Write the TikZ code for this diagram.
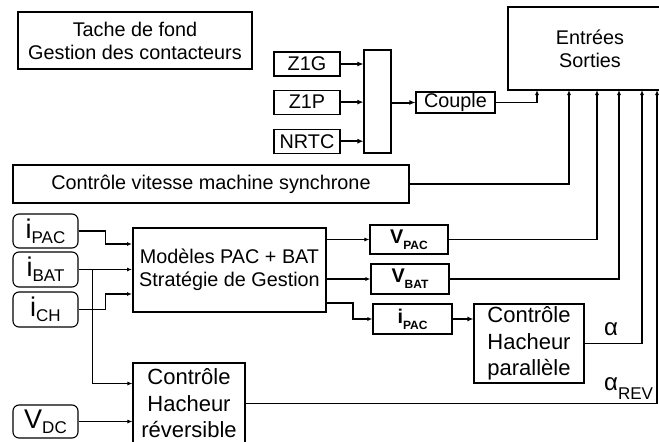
\documentclass[tikz,border=0pt]{standalone}
\usepackage{fontspec}
\setmainfont{Liberation Sans}
\usepackage{tikz}
\usetikzlibrary{arrows.meta, positioning, calc}

\newcommand{\sigsub}[2]{#1\raisebox{-5pt}{\fontsize{17}{17}\selectfont #2}}
\newcommand{\valsub}[2]{\textbf{#1\raisebox{-6pt}{\fontsize{12}{12}\selectfont #2}}}

\begin{document}
\begin{tikzpicture}[
    x=1pt, y=-1pt,
    blk/.style={draw, line width=1.1pt, inner sep=0pt, align=center, font=\fontsize{19.8}{23}\selectfont},
    hach/.style={blk, font=\fontsize{22}{26.5}\selectfont},
    sigbox/.style={blk, rounded corners=6pt, minimum width=65pt, font=\fontsize{27}{27}\selectfont},
    valbox/.style={blk, minimum width=78pt, minimum height=30pt, font=\fontsize{19.8}{20}\selectfont},
    arr/.style={line width=1.1pt, -{Latex[length=5pt,width=4pt]}},
    thkarr/.style={line width=2pt, -{Latex[length=6pt,width=5pt]}}
]
\useasboundingbox (0,0) rectangle (659,442);

% tache de fond
\node (tache) [blk, minimum width=234pt, minimum height=57pt] at (135,40.5) {Tache de fond\\Gestion des contacteurs};

% couple
\node (z1g) [blk, minimum width=66pt, minimum height=24pt] at (307,64) {Z1G};
\node (z1p) [blk, minimum width=66pt, minimum height=24pt, below=13pt of z1g] {Z1P};
\node (nrtc) [blk, minimum width=66pt, minimum height=24pt, below=14pt of z1p] {NRTC};
\node (mux) [blk, minimum width=27pt, minimum height=103pt] at (377.5,101.5) {};
\node (couple) [blk, minimum width=79pt, minimum height=21pt] at (455.5,102.5) {Couple};
\node (io) [blk, minimum width=164pt, minimum height=83pt] at (590,48.5) {Entrées\\Sorties};
\foreach \n/\x in {0/537,1/569,2/597,3/619,4/642,5/657}
    \coordinate (bus\n) at (\x,90);

% vitesse
\node (vit) [blk, minimum width=396pt, minimum height=38pt] at (211,184) {Contrôle vitesse machine synchrone};

% gestion energie
\node (mod) [blk, line width=2pt, minimum width=193pt, minimum height=84pt] at (229.5,270) {Modèles PAC + BAT\\Stratégie de Gestion};
\node (ipac) [sigbox, minimum height=34pt] at (45.5,231) {\sigsub{i}{PAC}};
\node (ibat) [sigbox, minimum height=35pt] at (45.5,269.5) {\sigsub{i}{BAT}};
\node (ich) [sigbox, minimum height=35pt] at (45.5,309.5) {\sigsub{i}{CH}};
\node (vdc) [sigbox, minimum height=33pt] at (45.5,421.5) {\sigsub{V}{DC}};
\node (vpac) [valbox, minimum height=29pt] at (409,239.5) {\valsub{V}{PAC}};
\node (vbat) [valbox] at (410,279) {\valsub{V}{BAT}};
\node (ipo) [valbox, minimum width=79pt] at (412.5,319) {\valsub{i}{PAC}};
\node (hpar) [hach, minimum width=110pt, minimum height=79pt] at (529,343.5) {Contrôle\\Hacheur\\parallèle};
\node (hrev) [hach, minimum width=112pt, minimum height=81pt] at (189,403.5) {Contrôle\\Hacheur\\réversible};
\node (alpha) [anchor=base, inner sep=0pt, font=\fontsize{24}{24}\selectfont] at (611,335) {α};
\node (alpharev) [anchor=base west, inner sep=0pt, font=\fontsize{24}{24}\selectfont] at (604,390) {α\raisebox{-9pt}{\fontsize{17}{17}\selectfont REV}};

% connexions
\foreach \s in {z1g,z1p,nrtc}
    \draw[thkarr] (\s.east) -- (\s.east -| mux.west);
\draw[thkarr] (mux.east |- couple.west) -- (couple.west);
\draw[arr] (couple.east) -| (bus0);
\draw[arr] (vit.east) -| (bus1);
\draw[arr] (vpac.east) -| (bus2);
\draw[arr] (vbat.east) -| (bus3);
\draw[arr] (hpar.east) -| (bus4);
\draw[arr] (hrev.east) -| (bus5);

\draw[arr] (ipac.east) -- ++(27,0) |- ($(mod.west)+(0,-26)$);
\draw[arr] (ibat.east) -- (ibat.east -| mod.west);
\draw[arr] (ich.east) -- ++(27,0) |- ($(mod.west)+(0,24)$);
\draw[arr] ($(ibat.east)+(14,0)$) |- ($(hrev.west)+(0,-20)$);
\draw[arr] (vdc.east) -- (vdc.east -| hrev.west);

\draw[arr] (mod.east |- vpac.west) -- (vpac.west);
\draw[arr] (mod.east |- vbat.west) -- (vbat.west);
\draw[arr] ($(mod.east)+(0,33)$) -- ++(26,0) |- (ipo.west);
\draw[thkarr] (ipo.east) -- (ipo.east -| hpar.west);

\end{tikzpicture}
\end{document}
